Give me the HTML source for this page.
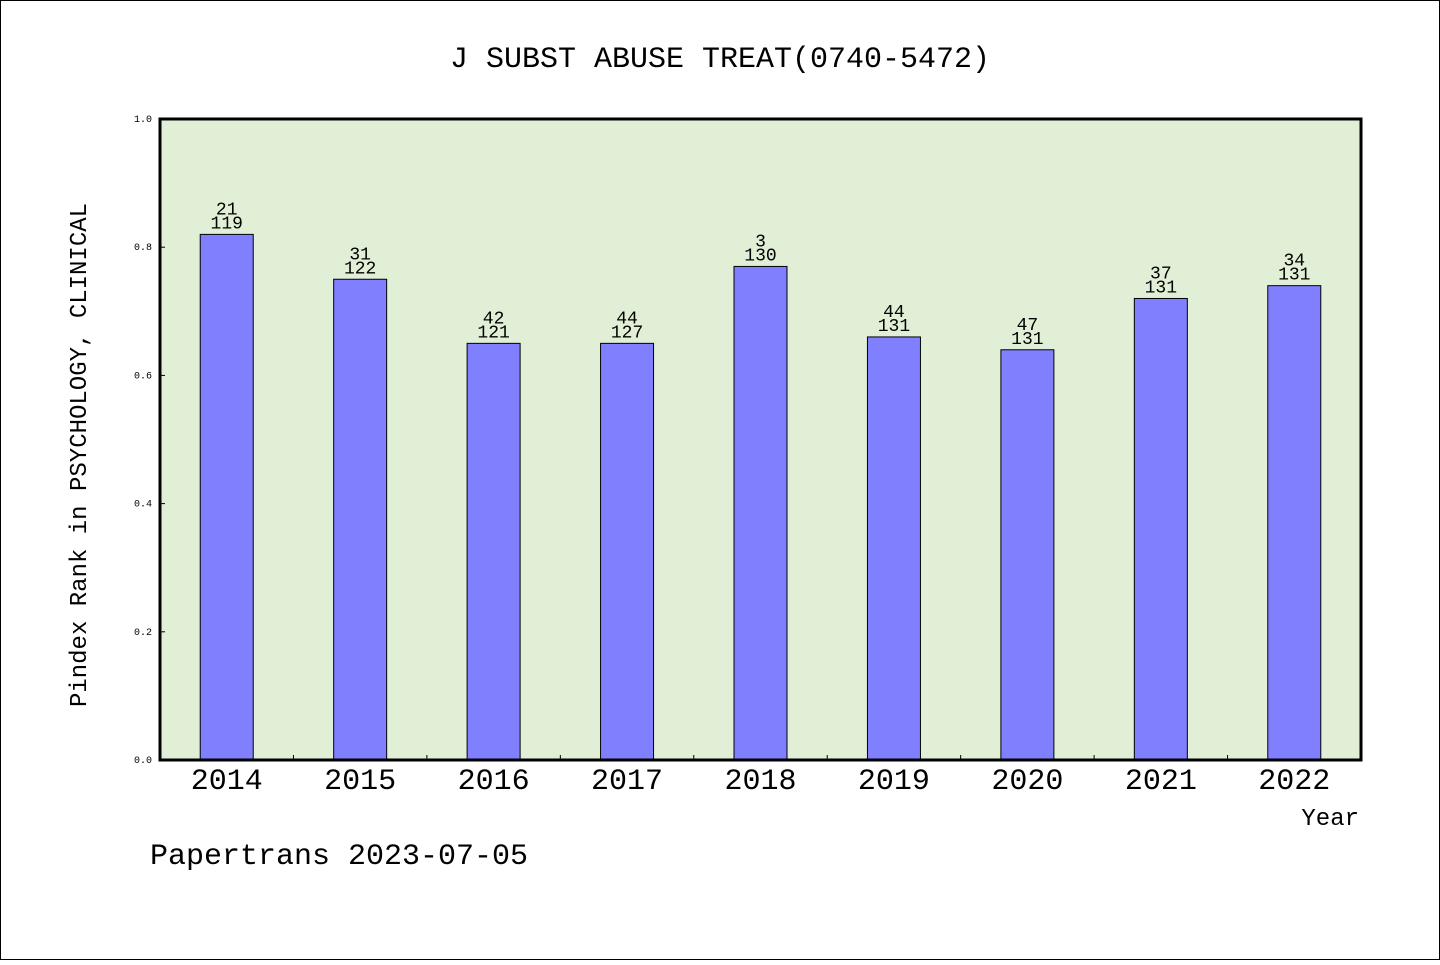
<!DOCTYPE html>
<html><head><meta charset="utf-8"><style>
body{margin:0;background:#fff}
svg text{font-family:"WenQuanYi Zen Hei","Liberation Mono",monospace;fill:#000}
</style></head><body>
<svg width="1440" height="960">
<rect x="0.5" y="0.5" width="1439" height="959" fill="#fff" stroke="#000"/>
<text x="720" y="67" font-size="30" text-anchor="middle">J SUBST ABUSE TREAT(0740-5472)</text>
<rect x="160" y="119" width="1201" height="641" fill="#e2efd7"/>
<g id="bars"></g>
<g id="axes"></g>
<rect x="160" y="119" width="1201" height="641" fill="none" stroke="#000" stroke-width="3"/>
<text transform="translate(86,455) rotate(-90)" font-size="24" text-anchor="middle">Pindex Rank in PSYCHOLOGY, CLINICAL</text>
<text x="1359" y="825" font-size="24" text-anchor="end">Year</text>
<text x="150" y="864" font-size="30">Papertrans 2023-07-05</text>
</svg>
<script>
const years=['2014','2015','2016','2017','2018','2019','2020','2021','2022'];
const values=[0.82,0.75,0.65,0.65,0.77,0.66,0.64,0.72,0.74];
const ranks=['21','31','42','44','3','44','47','37','34'];
const totals=['119','122','121','127','130','131','131','131','131'];
const yTicks=[0,0.2,0.4,0.6,0.8,1.0];
const L=160,R=1361,T=119,B=760;
const ns='http://www.w3.org/2000/svg';
const y=v=>B-(B-T)*v;
const step=(R-L)/years.length;
const cx=i=>L+step*(i+0.5);
const bw=53;
const bars=document.getElementById('bars'),axes=document.getElementById('axes');
function mk(tag,attrs,parent){const e=document.createElementNS(ns,tag);for(const k in attrs)e.setAttribute(k,attrs[k]);parent.appendChild(e);return e;}
years.forEach((yr,i)=>{
 const r=mk('rect',{x:cx(i)-bw/2,y:y(values[i]),width:bw,height:B-y(values[i]),fill:'#8080ff',stroke:'#000','stroke-width':1},bars);
 
 
 const t1=mk('text',{x:cx(i),y:y(values[i])-20,'font-size':18,'text-anchor':'middle'},bars);t1.textContent=ranks[i];
 
 
 const t2=mk('text',{x:cx(i),y:y(values[i])-6,'font-size':18,'text-anchor':'middle'},bars);t2.textContent=totals[i];
 
 
 const xl=mk('text',{x:cx(i),y:789,'font-size':30,'text-anchor':'middle'},axes);xl.textContent=yr;
 
 
 if(i>0){const tk=mk('line',{x1:L+step*i,x2:L+step*i,y1:B,y2:B-5,stroke:'#000'},axes);
 
 }
});
yTicks.forEach(v=>{
 const tk=mk('line',{x1:L,x2:L+5,y1:y(v),y2:y(v),stroke:'#000'},axes);
 
 
 const tl=mk('text',{x:152,y:y(v)+3,'font-size':10,'text-anchor':'end'},axes);tl.textContent=v.toFixed(1);
 
 
});
</script>
</body></html>
